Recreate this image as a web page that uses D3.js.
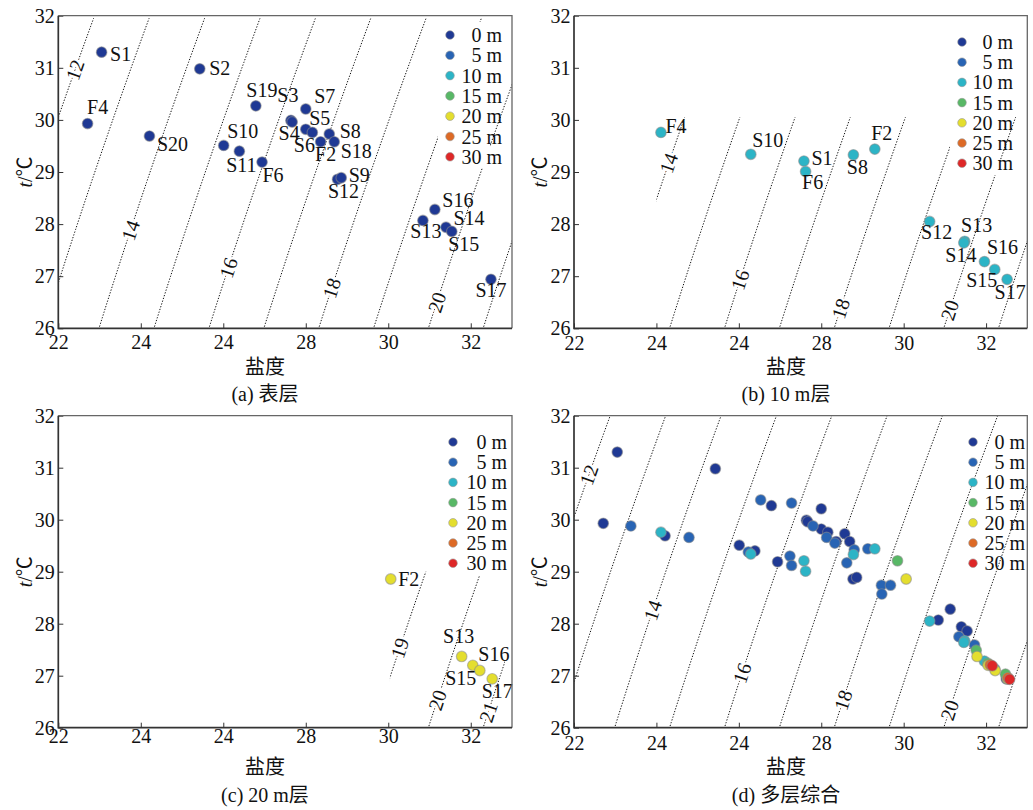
<!DOCTYPE html>
<html>
<head>
<meta charset="utf-8">
<script src="https://cdn.jsdelivr.net/npm/d3@7"></script>
<style>
body { margin: 0; background: #fff; }
svg { display: block; font-family: "Liberation Serif", "Times New Roman", "Noto Sans CJK SC", serif; }
</style>
</head>
<body>
<script>
// depth layers and their colours
const depthNames = ['0 m', '5 m', '10 m', '15 m', '20 m', '25 m', '30 m'];
const depthColors = ['#1f3994', '#2864b4', '#2cb4c6', '#58b866', '#e4de2e', '#dd6a26', '#de2727'];

// surface layer (0 m)
const st0 = ['S1', 'S2', 'F4', 'S20', 'S19', 'S10', 'S11', 'F6', 'S3', 'S4', 'S7', 'S5', 'S6', 'F2', 'S8', 'S18', 'S12', 'S9', 'S16', 'S13', 'S14', 'S15', 'S17'];
const sal0 = [23.05, 25.43, 22.71, 24.21, 26.79, 26.01, 26.39, 26.94, 27.64, 27.67, 28.00, 28.00, 28.16, 28.36, 28.57, 28.69, 28.77, 28.86, 31.13, 30.84, 31.40, 31.54, 32.49];
const tem0 = [31.30, 30.98, 29.93, 29.69, 30.27, 29.51, 29.40, 29.19, 29.99, 29.96, 30.21, 29.82, 29.76, 29.58, 29.73, 29.58, 28.86, 28.89, 28.28, 28.07, 27.94, 27.86, 26.94];

// 5 m
const sal5 = [23.38, 24.79, 26.53, 27.28, 26.23, 27.24, 27.28, 27.80, 28.13, 28.33, 28.80, 28.62, 29.13, 29.46, 29.68, 29.47, 31.34, 31.72];
const tem5 = [29.88, 29.66, 30.38, 30.32, 29.38, 29.30, 29.12, 29.88, 29.66, 29.55, 29.42, 29.17, 29.44, 28.74, 28.74, 28.57, 27.75, 27.59];

// 10 m
const st10 = ['F4', 'S10', 'S1', 'F6', 'S8', 'F2', 'S12', 'S13', 'S14', 'S16', 'S15', 'S17'];
const sal10 = [24.11, 26.29, 27.58, 27.62, 28.78, 29.30, 30.63, 31.48, 31.46, 31.96, 32.21, 32.51];
const tem10 = [29.76, 29.34, 29.21, 29.01, 29.33, 29.44, 28.05, 27.67, 27.64, 27.28, 27.13, 26.94];

// 15 m
const sal15 = [29.85, 31.76, 32.04, 32.47];
const tem15 = [29.21, 27.49, 27.24, 27.03];

// 20 m
const st20 = ['F2', 'S13', 'S15', 'S16', 'S17'];
const sal20 = [30.06, 31.78, 32.05, 32.22, 32.52];
const tem20 = [28.86, 27.37, 27.20, 27.10, 26.94];

// 25 m and 30 m
const sal25 = [32.10, 32.53];
const tem25 = [27.21, 26.96];
const sal30 = [32.15, 32.57];
const tem30 = [27.19, 26.93];

// axes
const xTicks = [22, 24, 26, 28, 30, 32];
const xTickLabels = ['22', '24', '24', '28', '30', '32'];
const yTicks = [26, 27, 28, 29, 30, 31, 32];

// sigma-t isopycnal levels
const sigmaLevels = [12, 13, 14, 15, 16, 17, 18, 19, 20, 21];

const layers = [
    {sal: sal0, tem: tem0, names: st0},
    {sal: sal5, tem: tem5},
    {sal: sal10, tem: tem10, names: st10},
    {sal: sal15, tem: tem15},
    {sal: sal20, tem: tem20, names: st20},
    {sal: sal25, tem: tem25},
    {sal: sal30, tem: tem30}
];

// station label offsets (px from the marker)
const labelOffsets = {
    a: {S1: [19, 2], S2: [20, -1], F4: [10, -17], S20: [23, 8], S19: [6, -16], S10: [19, -14], S11: [2, 14],
        F6: [11, 13], S3: [-3, -25], S4: [-3, 11], S7: [19, -13], S5: [14, -11], S6: [-8, 13], F2: [5, 12],
        S8: [21, -3], S18: [22, 9], S12: [6, 12], S9: [18, -3], S16: [23, -10], S13: [3, 11], S14: [23, -9],
        S15: [12, 13], S17: [0, 11]},
    b: {F4: [15, -6], S10: [17, -14], S1: [18, -3], F6: [7, 11], S8: [4, 12], F2: [7, -16], S12: [7, 11],
        S13: [12, -16], S14: [-3, 12], S16: [18, -15], S15: [-13, 11], S17: [3, 13]},
    c: {F2: [18, 0], S13: [-3, -20], S15: [-12, 13], S16: [14, -17], S17: [5, 12]}
};

const panels = [
    {id: 'a', title: '(a) 表层', x0: 58.3, x1: 512, y0: 15.7, y1: 328.3, layers: [0], labels: true,
     grid: [22, 33, 26, 31.95], clab: [[12, 30.96], [14, 27.88], [16, 27.16], [18, 26.77], [20, 26.5]],
     legend: {cx: 450, tx: 502, ty: 35, gap: 20.3, mask: [438, 490, 22, 168]},
     tickPad: 7, xlabX: 265, xlabY: 367, titleY: 394, ylabX: 32},
    {id: 'b', title: '(b) 10 m层', x0: 574, x1: 1027.3, y0: 15.7, y1: 328.3, layers: [2], labels: true,
     grid: [24.0, 33, 26, 30.05], clab: [[14, 29.17], [16, 26.93], [18, 26.38], [20, 26.35]],
     legend: {cx: 962, tx: 1013, ty: 42, gap: 20.2, mask: [950, 1000, 28, 175]},
     tickPad: 8, xlabX: 786, xlabY: 367, titleY: 394, ylabX: 547},
    {id: 'c', title: '(c) 20 m层', x0: 58.3, x1: 512, y0: 415.7, y1: 727.7, layers: [4], labels: true,
     grid: [30.04, 32.83, 26, 29.0], clab: [[19, 27.53], [20, 26.53], [21, 26.3]],
     legend: {cx: 453, tx: 507, ty: 442, gap: 20.2, mask: [441, 493, 430, 575]},
     tickPad: 1, xlabX: 265, xlabY: 767, titleY: 795, ylabX: 32},
    {id: 'd', title: '(d) 多层综合', x0: 574, x1: 1027.3, y0: 415.7, y1: 727.7, layers: [0, 1, 2, 3, 4, 5, 6], labels: false,
     grid: [22, 33, 26, 32], clab: [[12, 30.86], [14, 28.26], [16, 27.05], [18, 26.53], [20, 26.34]],
     legend: {cx: 973, tx: 1025, ty: 442, gap: 20.2, mask: null},
     tickPad: 8, xlabX: 786, xlabY: 767, titleY: 795, ylabX: 547}
];

// UNESCO 1980 equation of state at the surface
const rhoW = t => 999.842594 + 6.793952e-2 * t - 9.095290e-3 * t * t + 1.001685e-4 * t ** 3
    - 1.120083e-6 * t ** 4 + 6.536332e-9 * t ** 5;

const sigmaT = (s, t) => {
    let a = 0.824493 - 4.0899e-3 * t + 7.6438e-5 * t * t - 8.2467e-7 * t ** 3 + 5.3875e-9 * t ** 4;
    let b = -5.72466e-3 + 1.0227e-4 * t - 1.6546e-6 * t * t;
    return rhoW(t) + a * s + b * s ** 1.5 + 4.8314e-4 * s * s - 1000;
};

// salinity on an isopycnal at temperature t (bisection)
const salAt = (sig, t) => {
    let lo = 0, hi = 45;
    for (let i = 0; i < 50; i++) {
        let mid = (lo + hi) / 2;
        if (sigmaT(mid, t) < sig) lo = mid; else hi = mid;
    }
    return (lo + hi) / 2;
};

const W = 1033, H = 810;
const svg = d3.select('body').append('svg')
    .attr('width', W)
    .attr('height', H);
const defs = svg.append('defs');

const drawPanel = p => {
    let x = d3.scaleLinear().domain([22, 33]).range([p.x0, p.x1]);
    let y = d3.scaleLinear().domain([26, 32]).range([p.y1, p.y0]);
    let g = svg.append('g');

    //clip isopycnals to the grid they were computed on
    let cx0 = Math.max(x(p.grid[0]), p.x0), cx1 = Math.min(x(p.grid[1]), p.x1);
    let cy0 = Math.max(y(p.grid[3]), p.y0), cy1 = Math.min(y(p.grid[2]), p.y1);
    defs.append('clipPath').attr('id', 'clip-' + p.id)
        .append('rect')
        .attr('x', cx0).attr('y', cy0)
        .attr('width', cx1 - cx0).attr('height', cy1 - cy0);

    let line = d3.line().x(d => x(d[0])).y(d => y(d[1]));
    let lg = g.append('g').attr('clip-path', `url(#clip-${p.id})`);
    sigmaLevels.forEach(L => {
        let pts = d3.range(71).map(i => {
            let t = 25.5 + i * 7 / 70;
            return [salAt(L, t), t];
        });
        lg.append('path')
            .attr('d', line(pts))
            .attr('fill', 'none')
            .attr('stroke', '#111')
            .attr('stroke-width', 1)
            .attr('stroke-dasharray', '1.3,1.6');
    });

    //contour labels, rotated along the line
    p.clab.forEach(([L, t]) => {
        let px = x(salAt(L, t)), py = y(t);
        let dx = x(salAt(L, t + 0.1)) - x(salAt(L, t - 0.1));
        let dy = y(t + 0.1) - y(t - 0.1);
        let ang = Math.atan2(dy, dx) * 180 / Math.PI;
        g.append('text')
            .attr('transform', `translate(${px},${py}) rotate(${ang})`)
            .attr('text-anchor', 'middle')
            .attr('dy', '0.35em')
            .attr('font-size', 20)
            .attr('fill', '#111')
            .attr('stroke', '#fff')
            .attr('stroke-width', 5)
            .attr('paint-order', 'stroke')
            .text(L);
    });

    //legend background hides the lines behind it
    if (p.legend.mask) {
        let m = p.legend.mask;
        g.append('rect')
            .attr('x', m[0]).attr('y', m[2])
            .attr('width', m[1] - m[0]).attr('height', m[3] - m[2])
            .attr('fill', '#fff');
    }

    //markers
    p.layers.forEach(li => {
        let lay = layers[li];
        g.append('g').selectAll('circle')
            .data(lay.sal.map((s, i) => ({s: s, t: lay.tem[i]})))
            .enter()
            .append('circle')
            .attr('cx', d => x(d.s))
            .attr('cy', d => y(d.t))
            .attr('r', 5.3)
            .attr('fill', depthColors[li])
            .attr('stroke', '#8c8c8c')
            .attr('stroke-opacity', 0.55)
            .attr('stroke-width', 1.2);

        if (p.labels && lay.names) {
            let offs = labelOffsets[p.id];
            g.append('g').selectAll('text')
                .data(lay.names.map((n, i) => ({n: n, s: lay.sal[i], t: lay.tem[i]})))
                .enter()
                .append('text')
                .attr('x', d => x(d.s) + offs[d.n][0])
                .attr('y', d => y(d.t) + offs[d.n][1])
                .attr('dy', '0.35em')
                .attr('text-anchor', 'middle')
                .attr('font-size', 20)
                .attr('fill', '#111')
                .text(d => d.n);
        }
    });

    //axes
    let xAxis = d3.axisBottom(x)
        .tickValues(xTicks)
        .tickFormat((d, i) => xTickLabels[i])
        .tickSizeInner(-5)
        .tickSizeOuter(0)
        .tickPadding(p.tickPad);
    let gx = g.append('g')
        .attr('transform', `translate(0,${p.y1})`)
        .call(xAxis)
        .attr('font-family', null)
        .attr('font-size', 20);
    gx.select('.domain').remove();
    gx.selectAll('line').attr('stroke', '#333');
    gx.selectAll('text').attr('fill', '#111');

    let yAxis = d3.axisLeft(y)
        .tickValues(yTicks)
        .tickFormat(d3.format('d'))
        .tickSizeInner(-5)
        .tickSizeOuter(0)
        .tickPadding(3.5);
    let gy = g.append('g')
        .attr('transform', `translate(${p.x0},0)`)
        .call(yAxis)
        .attr('font-family', null)
        .attr('font-size', 20);
    gy.select('.domain').remove();
    gy.selectAll('line').attr('stroke', '#333');
    gy.selectAll('text').attr('fill', '#111');

    //frame: light top/right, dark left/bottom
    g.append('path')
        .attr('d', `M${p.x0},${p.y0}H${p.x1}V${p.y1}`)
        .attr('fill', 'none')
        .attr('stroke', '#666')
        .attr('stroke-width', 1.3);
    g.append('path')
        .attr('d', `M${p.x0},${p.y0}V${p.y1}H${p.x1}`)
        .attr('fill', 'none')
        .attr('stroke', '#333')
        .attr('stroke-width', 1.7);

    //axis titles
    g.append('text')
        .attr('x', p.xlabX).attr('y', p.xlabY)
        .attr('dy', '0.35em')
        .attr('text-anchor', 'middle')
        .attr('font-size', 20)
        .attr('fill', '#111')
        .text('盐度');

    let yl = g.append('text')
        .attr('transform', `translate(${p.ylabX},${(p.y0 + p.y1) / 2}) rotate(-90)`)
        .attr('text-anchor', 'middle')
        .attr('font-size', 20)
        .attr('fill', '#111');
    yl.append('tspan').attr('font-style', 'italic').text('t');
    yl.append('tspan').text('/℃');

    g.append('text')
        .attr('x', p.xlabX).attr('y', p.titleY)
        .attr('dy', '0.35em')
        .attr('text-anchor', 'middle')
        .attr('font-size', 20)
        .attr('fill', '#111')
        .text(p.title);

    //legend
    let leg = g.append('g');
    depthNames.forEach((name, i) => {
        let ly = p.legend.ty + i * p.legend.gap;
        leg.append('circle')
            .attr('cx', p.legend.cx).attr('cy', ly)
            .attr('r', 4.3)
            .attr('fill', depthColors[i])
            .attr('stroke', '#999')
            .attr('stroke-opacity', 0.6)
            .attr('stroke-width', 1);
        leg.append('text')
            .attr('x', p.legend.tx).attr('y', ly)
            .attr('dy', '0.35em')
            .attr('text-anchor', 'end')
            .attr('font-size', 20)
            .attr('fill', '#111')
            .text(name);
    });
};

panels.forEach(p => drawPanel(p));
</script>
</body>
</html>
